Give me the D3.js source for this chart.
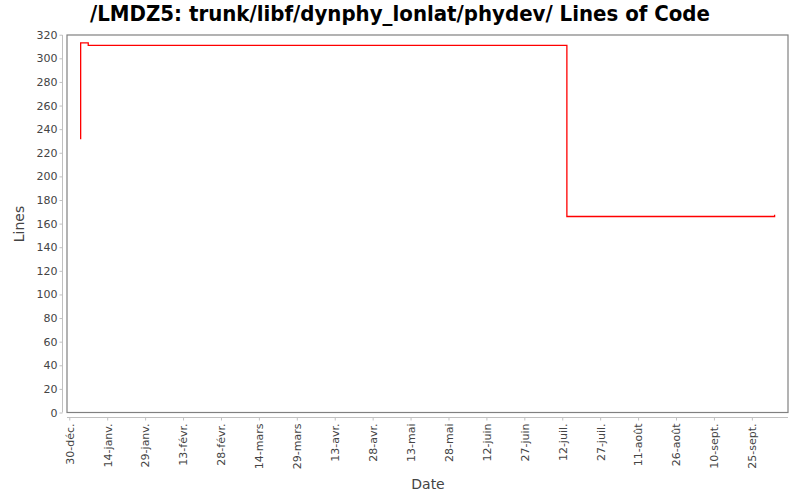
<!DOCTYPE html>
<html><head><meta charset="utf-8">
<script src="https://cdn.jsdelivr.net/npm/d3@7"></script>
<style>body{margin:0;background:#fff}</style>
</head><body>
<svg id="c" width="800" height="500"></svg>
<script>
const title = "/LMDZ5: trunk/libf/dynphy_lonlat/phydev/ Lines of Code";
const dates = ["2012-01-03T06:00","2012-01-03T12:00","2012-01-06T12:00","2012-07-13T20:00","2012-10-04T00:00","2012-10-04T06:00"];
const values = [232, 313, 311, 166, 167, 167];
const yTicks = [0,20,40,60,80,100,120,140,160,180,200,220,240,260,280,300,320];
const xTickDates = ["2011-12-30","2012-01-14","2012-01-29","2012-02-13","2012-02-28","2012-03-14","2012-03-29","2012-04-13","2012-04-28","2012-05-13","2012-05-28","2012-06-12","2012-06-27","2012-07-12","2012-07-27","2012-08-11","2012-08-26","2012-09-10","2012-09-25"];
const xTickLabels = ["30-déc.","14-janv.","29-janv.","13-févr.","28-févr.","14-mars","29-mars","13-avr.","28-avr.","13-mai","28-mai","12-juin","27-juin","12-juil.","27-juil.","11-août","26-août","10-sept.","25-sept."];

const svg = d3.select("#c");
const L = 67, R = 788, T = 35, B = 412.5;
const parse = d3.isoParse;
const t0 = parse("2011-12-30T00:00");
const day = 86400000;
const x = d3.scaleTime()
  .domain([new Date(+t0 - 0.9*day), new Date(+t0 + 284.3*day)])
  .range([L, R]);
const y = d3.scaleLinear().domain([0, 320]).range([B, 34.7]);

svg.append("text").attr("x", 400).attr("y", 21).attr("text-anchor", "middle")
  .attr("font-family", "DejaVu Sans Condensed, DejaVu Sans").attr("font-weight", "bold")
  .attr("font-size", 22).attr("fill", "#000").text(title);

// plot border
svg.append("rect").attr("x", L).attr("y", T).attr("width", R - L).attr("height", B - T)
  .attr("fill", "#fff").attr("stroke", "#808080").attr("stroke-width", 1.2);

// y axis
const ya = svg.append("g").attr("transform", "translate(62.5,0)")
  .call(d3.axisLeft(y).tickValues(yTicks).tickSize(3).tickPadding(2));
ya.select(".domain").attr("stroke", "#c0c0c0").attr("d", `M0,${T}V${B}`);
ya.selectAll(".tick line").attr("stroke", "#c0c0c0");
ya.selectAll("text").attr("font-family", "DejaVu Sans").attr("font-size", 11).attr("fill", "#444");

// x axis
const xa = svg.append("g").attr("transform", "translate(0,417.5)")
  .call(d3.axisBottom(x).tickValues(xTickDates.map(d => parse(d))).tickSize(3)
    .tickFormat((d, i) => xTickLabels[i]));
xa.select(".domain").attr("stroke", "#c0c0c0").attr("d", `M${L},0H${R}`);
xa.selectAll(".tick line").attr("stroke", "#c0c0c0");
xa.selectAll("text").attr("font-family", "DejaVu Sans").attr("font-size", 11).attr("fill", "#444")
  .attr("text-anchor", "end").attr("transform", "rotate(-90)")
  .attr("x", -6).attr("y", 0).attr("dy", "0.35em");

// line
const pts = dates.map((d, i) => [parse(d), values[i]]);
svg.append("path").datum(pts)
  .attr("fill", "none").attr("stroke", "#ff0000").attr("stroke-width", 1.3)
  .attr("d", d3.line().x(d => x(d[0])).y(d => y(d[1])).curve(d3.curveStepAfter));

// axis titles
svg.append("text").attr("x", 428).attr("y", 489).attr("text-anchor", "middle")
  .attr("font-family", "DejaVu Sans").attr("font-size", 14).attr("fill", "#444").text("Date");
svg.append("text").attr("transform", "translate(24,224) rotate(-90)").attr("text-anchor", "middle")
  .attr("font-family", "DejaVu Sans").attr("font-size", 14).attr("fill", "#444").text("Lines");
</script>
</body></html>
